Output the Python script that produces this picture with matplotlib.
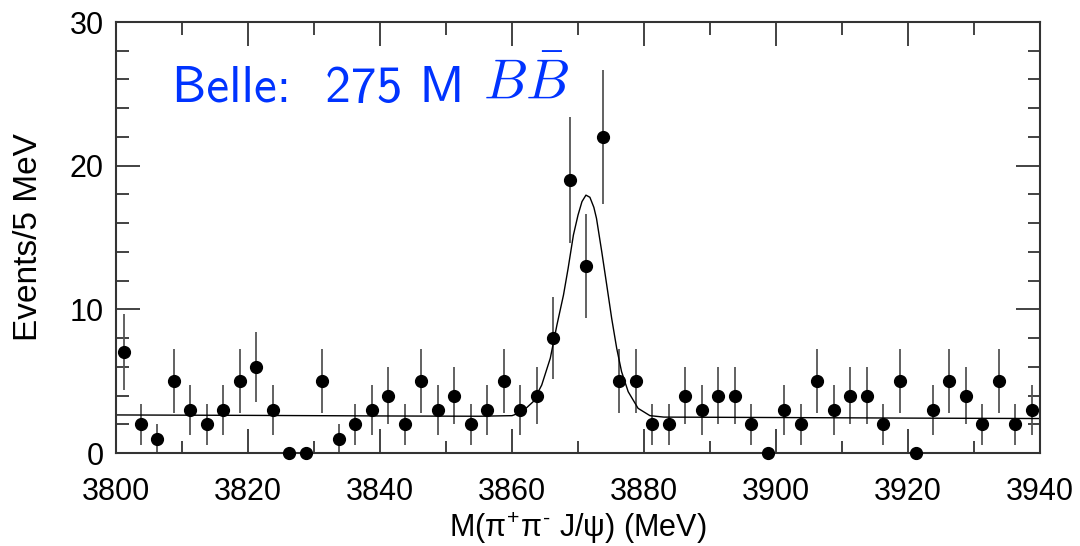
import matplotlib
matplotlib.use('Agg')
import matplotlib.pyplot as plt
from matplotlib.ticker import MultipleLocator

# ==== DATOS ====

# centros de los bins (MeV) y cuentas por bin
masa = [3801.25 + 2.5 * i for i in range(56)]
eventos = [7, 2, 1, 5, 3, 2, 3, 5, 6, 3, 0, 0, 5, 1, 2, 3, 4, 2, 5, 3,
           4, 2, 3, 5, 3, 4, 8, 19, 13, 22, 5, 5, 2, 2, 4, 3, 4, 4, 2, 0,
           3, 2, 5, 3, 4, 4, 2, 5, 0, 3, 5, 4, 2, 5, 2, 3]

# curva del ajuste (señal + fondo)
ajuste_x = [3800, 3820, 3840, 3855, 3860, 3861.5, 3863.2, 3864.5, 3865.8, 3866.8,
            3867.8, 3868.5, 3869.3, 3870.0, 3870.6, 3871.2, 3871.8, 3872.4, 3872.8,
            3873.6, 3874.35, 3875.1, 3875.86, 3876.6, 3877.6, 3879.1, 3880.9, 3883,
            3900, 3920, 3940]
ajuste_y = [2.65, 2.62, 2.58, 2.56, 2.6, 2.85, 3.57, 4.73, 6.6, 8.9,
            11.0, 12.85, 15.17, 16.56, 17.5, 17.95, 17.8, 17.1, 16.33,
            14.0, 11.7, 9.37, 7.29, 5.66, 4.27, 3.11, 2.6, 2.5,
            2.47, 2.43, 2.4]

plt.rcParams['font.family'] = 'Liberation Sans'
plt.rcParams['mathtext.fontset'] = 'custom'
plt.rcParams['mathtext.rm'] = 'Liberation Sans'
plt.rcParams['mathtext.it'] = 'Liberation Sans'

fig = plt.figure(figsize=(10.8, 5.46), dpi=100)
ax = fig.add_axes([0.1074, 0.1703, 0.8556, 0.7894])

# barras de error poissonianas (sin barra en bins vacíos)
errores = [n ** 0.5 for n in eventos]
ax.errorbar(masa, eventos, yerr=errores, fmt='none', ecolor='#555555',
            elinewidth=1.3, capsize=0, zorder=2)
ax.plot(masa, eventos, 'o', color='black', markersize=8.5, zorder=3, clip_on=False)

ax.plot(ajuste_x, ajuste_y, '-', color='black', linewidth=1.0, zorder=2)

ax.set_xlim(3800, 3940)
ax.set_ylim(0, 30)

ax.xaxis.set_major_locator(MultipleLocator(20))
ax.xaxis.set_minor_locator(MultipleLocator(10))
ax.yaxis.set_major_locator(MultipleLocator(10))
ax.yaxis.set_minor_locator(MultipleLocator(2))
ax.tick_params(which='both', direction='in', top=True, right=True,
               color='#222222', width=1.2)
ax.tick_params(which='major', length=17)
ax.tick_params(which='minor', length=9)
ax.tick_params(axis='x', which='major', labelsize=22, pad=17)
ax.tick_params(axis='y', which='major', labelsize=22, pad=9)

for s in ax.spines.values():
    s.set_linewidth(1.5)
    s.set_color('#333333')

ax.set_xlabel(r'M($\pi^{+}\pi^{\text{-}}$ J/$\psi$) (MeV)', fontsize=22, labelpad=3)
ax.set_ylabel('Events/5 MeV', fontsize=24, labelpad=18)

# etiqueta del experimento: texto en cmss10 y B B-barra en mathtext
etiqueta = ax.text(0.061, 0.815, 'Belle:  275 M', transform=ax.transAxes,
                   color='#0033ff', fontsize=37, va='baseline', ha='left',
                   family='cmss10')
ax.annotate(r'$B\bar{B}$', xy=(1, 0), xycoords=etiqueta, xytext=(13, 0),
            textcoords='offset points', color='#0033ff', fontsize=40,
            va='bottom', ha='left', math_fontfamily='cm')

fig.savefig('out.png', dpi=100)
